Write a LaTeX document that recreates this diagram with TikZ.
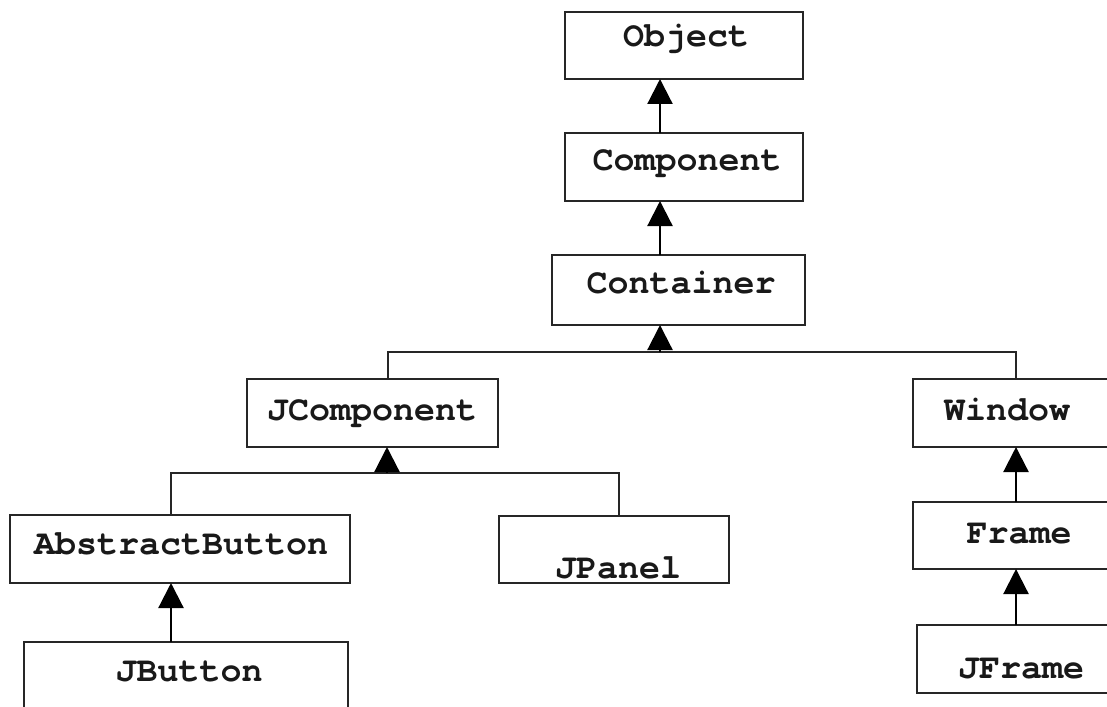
\documentclass[tikz,border=0pt]{standalone}
\usepackage{fontspec}
\setmonofont{TeX Gyre Cursor}
\usetikzlibrary{arrows.meta}
\begin{document}
\begin{tikzpicture}[x=1pt,y=-1pt,
  cls/.style={draw=black!85, line width=1.4pt, inner sep=0pt, outer sep=0pt},
  lbl/.style={font=\fontsize{35}{40}\selectfont\ttfamily\bfseries, anchor=base, inner sep=0pt, text=black!90},
  inh/.style={draw=black, line width=2.2pt, -{Triangle[length=25pt,width=25pt]}},
  branch/.style={draw=black!85, line width=1.4pt}]
\useasboundingbox (0,0) rectangle (1107,706);
\fill[white] (0,0) rectangle (1107,706);
\clip (0,0) rectangle (1107,706);
% boxes
\node[cls, minimum width=238pt, minimum height=67pt] (obj)   at (684,45.5)  {};
\node[cls, minimum width=238pt, minimum height=68pt] (comp)  at (684,167)   {};
\node[cls, minimum width=253pt, minimum height=70pt] (cont)  at (678.5,290) {};
\node[cls, minimum width=251pt, minimum height=68pt] (jc)    at (372.5,413) {};
\node[cls, minimum width=197pt, minimum height=68pt] (win)   at (1011.5,413){};
\node[cls, minimum width=340pt, minimum height=68pt] (ab)    at (180,549)   {};
\node[cls, minimum width=230pt, minimum height=67pt] (jp)    at (614,549.5) {};
\node[cls, minimum width=197pt, minimum height=67pt] (frame) at (1011.5,535.5){};
\node[cls, minimum width=324pt, minimum height=78pt] (jb)    at (186,681)   {};
\node[cls, minimum width=193pt, minimum height=68pt] (jf)    at (1013.5,659){};
% labels
\node[lbl] (objt)   at (686,47)  {Object};
\node[lbl] (compt)  at (687,170) {Component};
\node[lbl] (contt)  at (681,293) {Container};
\node[lbl] (jct)    at (372,420) {JComponent};
\node[lbl] (wint)   at (1007,420){Window};
\node[lbl] (abt)    at (181,554) {AbstractButton};
\node[lbl] (jpt)    at (618,578) {JPanel};
\node[lbl] (framet) at (1019,543){Frame};
\node[lbl] (jbt)    at (189,681) {JButton};
\node[lbl] (jft)    at (1021,678){JFrame};
% helper coordinates
\coordinate (xa)   at (660,0);
\coordinate (xjc)  at (388,0);
\coordinate (xwin) at (1016,0);
\coordinate (xab)  at (171,0);
\coordinate (xjp)  at (619,0);
\coordinate (xjca) at (387,0);
\coordinate (yb1)  at (0,352);
\coordinate (yb2)  at (0,473);
% connectors
\draw[inh] (comp.north -| xa) -- (obj.south -| xa);
\draw[inh] (cont.north -| xa) -- (comp.south -| xa);
\draw[branch] (jc.north -| xjc) |- (yb1 -| xwin) -- (win.north -| xwin);
\draw[inh] (yb1 -| xa) -- (cont.south -| xa);
\draw[branch] (ab.north -| xab) |- (yb2 -| xjp) -- (jp.north -| xjp);
\draw[inh] (yb2 -| xjca) -- (jc.south -| xjca);
\draw[inh] (jb.north -| xab) -- (ab.south -| xab);
\draw[inh] (frame.north -| xwin) -- (win.south -| xwin);
\draw[inh] (jf.north -| xwin) -- (frame.south -| xwin);
\end{tikzpicture}
\end{document}
